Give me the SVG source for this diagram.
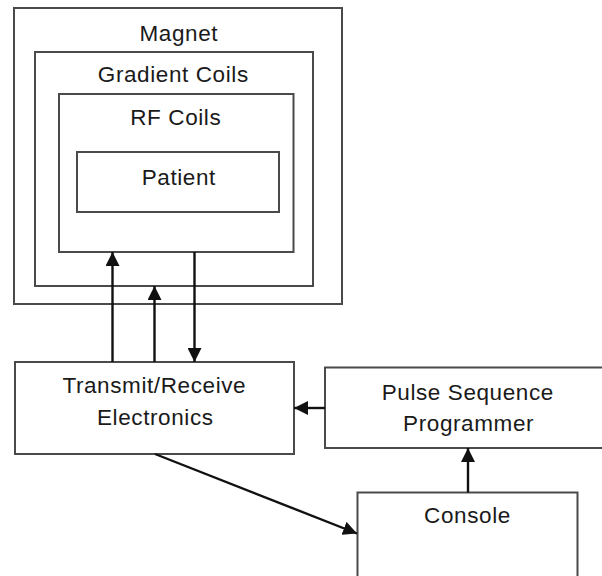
<svg xmlns="http://www.w3.org/2000/svg" width="602" height="576" viewBox="0 0 602 576">
  <style>
    .box { fill: none; stroke: #4a4a4a; stroke-width: 2; }
    .label { font-family: "Liberation Sans", Arial, sans-serif; font-size: 22.5px; letter-spacing: 0.6px; fill: #1a1a1a; text-anchor: middle; }
    .conn { stroke: #111; stroke-width: 2.4; fill: none; marker-end: url(#head); }
  </style>
  <defs>
    <marker id="head" markerUnits="userSpaceOnUse" markerWidth="16" markerHeight="14" refX="14" refY="7" orient="auto">
      <path d="M0,0 L14,7 L0,14 Z" fill="#111"/>
    </marker>
  </defs>
  <rect width="602" height="576" fill="#fff"/>

  <g id="magnet">
    <rect class="box" x="14" y="8" width="328" height="296"/>
    <text class="label" x="178.8" y="40.5">Magnet</text>
  </g>
  <g id="gradient-coils">
    <rect class="box" x="35" y="52" width="278" height="234"/>
    <text class="label" x="173.3" y="81.5">Gradient Coils</text>
  </g>
  <g id="rf-coils">
    <rect class="box" x="59" y="94" width="234.5" height="158"/>
    <text class="label" x="175.8" y="125">RF Coils</text>
  </g>
  <g id="patient">
    <rect class="box" x="77" y="152" width="202" height="60"/>
    <text class="label" x="178.8" y="185">Patient</text>
  </g>
  <g id="transmit-receive">
    <rect class="box" x="15" y="362" width="279" height="92"/>
    <text class="label" x="154.3" y="393">Transmit/Receive</text>
    <text class="label" x="155.3" y="425">Electronics</text>
  </g>
  <g id="pulse-sequence">
    <path class="box" d="M604,367.5 H325 V448 H604"/>
    <text class="label" x="467.8" y="399.5">Pulse Sequence</text>
    <text class="label" x="468.6" y="431">Programmer</text>
  </g>
  <g id="console">
    <path class="box" d="M357.5,580 V492.5 H577.5 V580"/>
    <text class="label" x="467.5" y="523">Console</text>
  </g>

  <g id="connectors">
    <line class="conn" x1="112.5" y1="362" x2="112.5" y2="252"/>
    <line class="conn" x1="154.5" y1="362" x2="154.5" y2="286"/>
    <line class="conn" x1="194.5" y1="252" x2="194.5" y2="362"/>
    <line class="conn" x1="325" y1="408" x2="294" y2="408"/>
    <line class="conn" x1="468" y1="492.5" x2="468" y2="448"/>
    <line class="conn" x1="155" y1="454" x2="357" y2="533.5"/>
  </g>
</svg>
